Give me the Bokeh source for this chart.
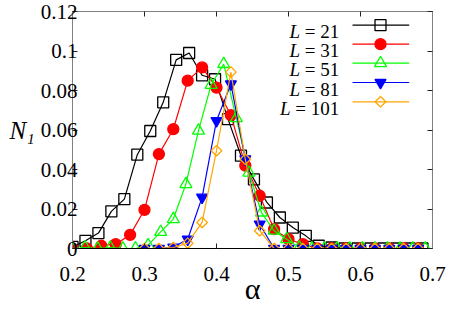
from bokeh.plotting import figure
from bokeh.models import Range1d, FixedTicker, LinearAxis, Label
from bokeh.embed import file_html
from bokeh.resources import INLINE
import math

# ---- data ----
alpha_21 = [0.200, 0.218, 0.236, 0.254, 0.272, 0.290, 0.308, 0.326, 0.344, 0.362,
            0.380, 0.398, 0.416, 0.434, 0.452, 0.470, 0.488, 0.506, 0.524, 0.542,
            0.560, 0.578, 0.596, 0.614, 0.632, 0.650, 0.668, 0.686]
n1_21 = [0.0008, 0.0039, 0.0078, 0.0188, 0.0250, 0.0475, 0.0595, 0.0740, 0.0955, 0.0990,
         0.0877, 0.0857, 0.0655, 0.0470, 0.0350, 0.0233, 0.0157, 0.0106, 0.0064, 0.0014,
         0.0005, 0.0, 0.0, 0.0, 0.0, 0.0, 0.0, 0.0]

alpha_31 = [0.20, 0.22, 0.24, 0.26, 0.28, 0.30, 0.32, 0.34, 0.36, 0.38, 0.40, 0.42, 0.44,
            0.46, 0.48, 0.50, 0.52, 0.54, 0.56, 0.58, 0.60, 0.62, 0.64, 0.66, 0.68]
n1_31 = [0.0, 0.0, 0.0014, 0.0022, 0.0069, 0.0196, 0.0478, 0.0604, 0.0850, 0.0917, 0.0815,
         0.0675, 0.0420, 0.0267, 0.0098, 0.0047, 0.0022, 0.0, 0.0, 0.0, 0.0, 0.0, 0.0, 0.0, 0.0]

alpha_51 = [0.2000, 0.2175, 0.2350, 0.2525, 0.2700, 0.2875, 0.3050, 0.3225, 0.3400, 0.3575,
            0.3750, 0.3925, 0.4100, 0.4275, 0.4450, 0.4625, 0.4800, 0.4975, 0.5150, 0.5325,
            0.5500, 0.5675, 0.5850, 0.6025, 0.6200, 0.6375, 0.6550, 0.6725, 0.6900]
n1_51 = [0.0, 0.0005, 0.0, 0.0005, 0.0, 0.0, 0.0017, 0.0084, 0.0149, 0.0326,
         0.0597, 0.0828, 0.0934, 0.0660, 0.0384, 0.0182, 0.0090, 0.0047, 0.0005, 0.0,
         0.0, 0.0, 0.0, 0.0, 0.0, 0.0, 0.0, 0.0, 0.0]

alpha_81 = [0.30, 0.32, 0.34, 0.36, 0.38, 0.40, 0.42, 0.44, 0.46, 0.48,
            0.50, 0.52, 0.54, 0.56, 0.58, 0.60, 0.62, 0.64, 0.66, 0.68]
n1_81 = [0.0, 0.0, 0.0006, 0.0047, 0.0259, 0.0647, 0.0833, 0.0453, 0.0123, 0.0,
         0.0, 0.0, 0.0, 0.0, 0.0, 0.0, 0.0, 0.0, 0.0, 0.0]

alpha_101 = [0.30, 0.32, 0.34, 0.36, 0.38, 0.40, 0.42, 0.44, 0.46, 0.48,
             0.50, 0.52, 0.54, 0.56, 0.58, 0.60, 0.62, 0.64, 0.66, 0.68]
n1_101 = [0.0, 0.0, 0.0005, 0.0027, 0.0132, 0.0495, 0.0893, 0.0452, 0.0090, 0.0,
          0.0, 0.0, 0.0, 0.0, 0.0, 0.0, 0.0, 0.0, 0.0, 0.0]

series_labels = ["21", "31", "51", "81", "101"]
x_ticks = [0.2, 0.3, 0.4, 0.5, 0.6, 0.7]
x_tick_labels = ["0.2", "0.3", "0.4", "0.5", "0.6", "0.7"]
y_ticks = [0.0, 0.02, 0.04, 0.06, 0.08, 0.1, 0.12]
y_tick_labels = ["0", "0.02", "0.04", "0.06", "0.08", "0.1", "0.12"]

# ---- layout ----
W, H = 447, 308
FL, FR, FT, FB = 72, 432, 11, 248  # frame in canvas px
X0, X1, Y0, Y1 = 0.2, 0.7, 0.0, 0.12
SERIF = "Liberation Serif"

p = figure(width=W, height=H, output_backend="svg", toolbar_location=None,
           x_range=Range1d(X0, X1), y_range=Range1d(Y0, Y1),
           min_border_left=FL, min_border_right=W - FR,
           min_border_top=FT, min_border_bottom=H - FB)
p.background_fill_color = "white"
p.border_fill_color = "white"
p.grid.visible = False
p.outline_line_color = "#808080"
p.outline_line_width = 1


def dx(px):
    return X0 + (px - FL) * (X1 - X0) / (FR - FL)


def dy(py):
    return Y0 + (FB - py) * (Y1 - Y0) / (FB - FT)


def style_axis(ax, labels_visible, line_color):
    ax.major_tick_in = 5
    ax.major_tick_out = 0
    ax.minor_tick_in = 0
    ax.minor_tick_out = 0
    ax.major_tick_line_color = "#222222"
    ax.axis_line_color = line_color
    ax.major_label_text_font = SERIF
    ax.major_label_text_color = "black"
    if labels_visible:
        ax.major_label_text_font_size = "21px"
    else:
        ax.major_label_text_font_size = "0px"
        ax.major_label_text_alpha = 0


p.xaxis.ticker = FixedTicker(ticks=x_ticks)
p.yaxis.ticker = FixedTicker(ticks=y_ticks)
p.xaxis.major_label_overrides = dict(zip(x_ticks, x_tick_labels))
p.yaxis.major_label_overrides = dict(zip(y_ticks, y_tick_labels))
style_axis(p.xaxis[0], True, "black")
style_axis(p.yaxis[0], True, "#808080")
p.xaxis.major_label_standoff = 18
p.yaxis.major_label_standoff = -5

# axis titles
p.xaxis.axis_label = "α"
p.xaxis.axis_label_text_font = SERIF
p.xaxis.axis_label_text_font_style = "normal"
p.xaxis.axis_label_text_font_size = "30px"
p.xaxis.axis_label_text_color = "black"
p.xaxis.axis_label_standoff = -12

p.yaxis.axis_label = "N₁"
p.yaxis.axis_label_orientation = "horizontal"
p.yaxis.axis_label_text_font = SERIF
p.yaxis.axis_label_text_font_style = "italic"
p.yaxis.axis_label_text_font_size = "25px"
p.yaxis.axis_label_text_color = "black"
p.yaxis.axis_label_standoff = 3

top = LinearAxis(ticker=FixedTicker(ticks=x_ticks))
right = LinearAxis(ticker=FixedTicker(ticks=y_ticks))
style_axis(top, False, "#808080")
style_axis(right, False, "#808080")
p.add_layout(top, "above")
p.add_layout(right, "right")

# ---- series ----
specs = [
    (alpha_21, n1_21, "black", dict(marker="square", size=11, fill_color=None)),
    (alpha_31, n1_31, "#ff0000", dict(marker="circle", size=11, fill_color="#ff0000")),
    (alpha_51, n1_51, "#00ff00", dict(marker="triangle", size=12, fill_color=None)),
    (alpha_81, n1_81, "#0000ff", dict(marker="inverted_triangle", size=11, fill_color="#0000ff")),
    (alpha_101, n1_101, "#ffa500", dict(marker="square", size=7.5, fill_color=None, angle=math.pi / 4)),
]
for xs, ys, col, mk in specs:
    p.line(xs, ys, line_color=col, line_width=1.2)
    p.scatter(xs, ys, line_color=col, line_width=1.3, **mk)

# ---- legend (label left of sample, like the reference) ----
row_y = [24.7, 43.7, 62.7, 82.0, 101.3]
text_right = 338.7
line_x0, line_x1, mark_x = 352.0, 408.7, 380.0
fs = 19
for i, (lab, (xs, ys, col, mk)) in enumerate(zip(series_labels, specs)):
    cy = row_y[i]
    base = cy + 6.5
    rest = "= " + lab
    rest_w = fs * (0.564 + 0.25 + 0.5 * len(lab))
    p.add_layout(Label(x=dx(text_right), y=dy(base), text=rest, text_align="right",
                       text_baseline="alphabetic", text_font=SERIF,
                       text_font_size=f"{fs}px", text_color="black"))
    p.add_layout(Label(x=dx(text_right - rest_w - fs * 0.25), y=dy(base), text="L",
                       text_align="right", text_baseline="alphabetic", text_font=SERIF,
                       text_font_style="italic", text_font_size=f"{fs}px",
                       text_color="black"))
    p.line([dx(line_x0), dx(line_x1)], [dy(cy), dy(cy)], line_color=col, line_width=1.2)
    p.scatter([dx(mark_x)], [dy(cy)], line_color=col, line_width=1.3, **mk)

open("out.html", "w").write(file_html(p, INLINE))
